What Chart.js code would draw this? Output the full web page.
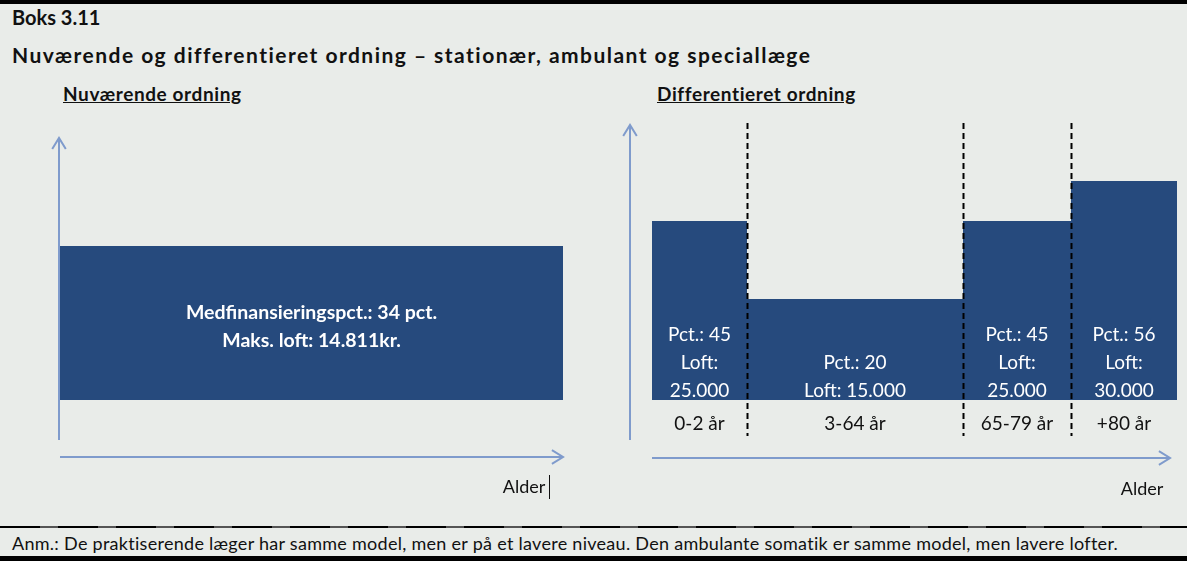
<!DOCTYPE html>
<html>
<head>
<meta charset="utf-8">
<script src="https://cdn.jsdelivr.net/npm/chart.js@4"></script>
<style>
  body { margin: 0; background: #e9ece9; font-family: Lato, "Open Sans", sans-serif; }
  #page { position: relative; width: 1187px; height: 561px; overflow: hidden; background: #e9ece9; }
  .topbar { position: absolute; left: 0; top: 0; width: 1187px; height: 4px; background: #000; }
  .botbar { position: absolute; left: 0; top: 556px; width: 1187px; height: 5px; background: #000; }
  .boks { position: absolute; left: 12px; top: 5px; font-size: 20px; font-weight: bold; color: #111; white-space: nowrap; }
  .title { position: absolute; left: 12px; top: 42px; font-size: 21px; font-weight: bold; color: #111; letter-spacing: 1.47px; white-space: nowrap; }
  .sub { position: absolute; top: 82px; font-size: 19px; font-weight: bold; color: #111; text-decoration: underline; letter-spacing: 0.6px; white-space: nowrap; }
  .sep { position: absolute; left: 0; top: 526px; width: 1187px; height: 2px;
         background: repeating-linear-gradient(90deg, #000 0 40px, #555 40px 58px); }
  .note { position: absolute; left: 12px; top: 532px; font-size: 18px; color: #111; letter-spacing: 0.28px; white-space: nowrap; }
  canvas { position: absolute; }
</style>
</head>
<body>
<div id="page">
  <div class="topbar"></div>
  <div class="boks">Boks 3.11</div>
  <div class="title">Nuværende og differentieret ordning – stationær, ambulant og speciallæge</div>
  <div class="sub" style="left:63px">Nuværende ordning</div>
  <div class="sub" style="left:657px">Differentieret ordning</div>
  <div id="leftWrap" style="position:absolute;left:0;top:100px;width:593px;height:420px"><canvas id="leftChart"></canvas></div>
  <div id="rightWrap" style="position:absolute;left:593px;top:100px;width:594px;height:420px"><canvas id="rightChart"></canvas></div>
  <div class="sep"></div>
  <div class="note">Anm.: De praktiserende læger har samme model, men er på et lavere niveau. Den ambulante somatik er samme model, men lavere lofter.</div>
  <div class="botbar"></div>
</div>
<script>
// Nuværende ordning: one block
var currentWidths = [1];
var currentHeights = [154];
var currentText = ["Medfinansieringspct.: 34 pct.", "Maks. loft: 14.811kr."];

// Differentieret ordning: age groups, relative widths and heights
var ageGroups = ["0-2 år", "3-64 år", "65-79 år", "+80 år"];
var groupWidths = [95, 216, 108, 106];
var groupHeights = [179, 101, 179, 219];
var groupPct = ["Pct.: 45", "Pct.: 20", "Pct.: 45", "Pct.: 56"];
var groupLoft = [["Loft:", "25.000"], ["Loft: 15.000"], ["Loft:", "25.000"], ["Loft:", "30.000"]];

var barColor = "#264a7d";
var axisColor = "#7f9bcc";

function stepPoints(widths, heights) {
  let pts = [];
  let x = 0;
  for (let i = 0; i < widths.length; i++) {
    pts.push({ x: x, y: heights[i] });
    x += widths[i];
  }
  pts.push({ x: x, y: heights[heights.length - 1] });
  return pts;
}

function edges(widths) {
  let e = [0];
  widths.forEach((w) => e.push(e[e.length - 1] + w));
  return e;
}

function arrow(ctx, x1, y1, x2, y2) {
  ctx.save();
  ctx.strokeStyle = axisColor;
  ctx.lineWidth = 2;
  ctx.beginPath();
  ctx.moveTo(x1, y1);
  ctx.lineTo(x2, y2);
  ctx.stroke();
  let a = Math.atan2(y2 - y1, x2 - x1);
  ctx.beginPath();
  ctx.moveTo(x2 - 13 * Math.cos(a - 0.55), y2 - 13 * Math.sin(a - 0.55));
  ctx.lineTo(x2, y2);
  ctx.lineTo(x2 - 13 * Math.cos(a + 0.55), y2 - 13 * Math.sin(a + 0.55));
  ctx.stroke();
  ctx.restore();
}

function baseOptions(xmax, ymax, pad) {
  return {
    responsive: true,
    maintainAspectRatio: false,
    animation: false,
    layout: { padding: pad },
    plugins: { legend: { display: false }, tooltip: { enabled: false } },
    elements: { point: { radius: 0 } },
    scales: {
      x: { type: "linear", min: 0, max: xmax, display: false },
      y: { type: "linear", min: 0, max: ymax, display: false },
    },
  };
}

var leftDeco = {
  id: "leftDeco",
  afterDraw(chart) {
    let ctx = chart.ctx;
    let xs = chart.scales.x, ys = chart.scales.y;
    let x0 = xs.getPixelForValue(0), x1 = xs.getPixelForValue(currentWidths[0]);
    let y0 = ys.getPixelForValue(0), yTop = ys.getPixelForValue(currentHeights[0]);
    arrow(ctx, x0 - 1, y0 + 40, x0 - 1, 38);
    arrow(ctx, x0, y0 + 57, x1, y0 + 57);
    ctx.save();
    ctx.fillStyle = "#ffffff";
    ctx.font = "bold 19.5px Lato";
    ctx.textAlign = "center";
    ctx.textBaseline = "middle";
    let cx = (x0 + x1) / 2, cy = (y0 + yTop) / 2;
    ctx.fillText(currentText[0], cx, cy - 10);
    ctx.fillText(currentText[1], cx, cy + 18);
    ctx.fillStyle = "#111";
    ctx.font = "18px Lato";
    ctx.fillText("Alder", x1 - 39, y0 + 87);
    ctx.fillRect(x1 - 14, y0 + 75, 1, 24);
    ctx.restore();
  },
};

var rightDeco = {
  id: "rightDeco",
  afterDraw(chart) {
    let ctx = chart.ctx;
    let xs = chart.scales.x, ys = chart.scales.y;
    let e = edges(groupWidths);
    let y0 = ys.getPixelForValue(0);
    let left = xs.getPixelForValue(0);
    arrow(ctx, left - 22, y0 + 40, left - 22, 25);
    arrow(ctx, left, y0 + 58, xs.getPixelForValue(e[e.length - 1]) - 7, y0 + 58);
    ctx.save();
    ctx.strokeStyle = "#000";
    ctx.lineWidth = 2;
    ctx.setLineDash([6, 4]);
    for (let i = 1; i < e.length - 1; i++) {
      let px = Math.round(xs.getPixelForValue(e[i])) + 0.5;
      ctx.beginPath();
      ctx.moveTo(px, 23);
      ctx.lineTo(px, y0 + 36);
      ctx.stroke();
    }
    ctx.setLineDash([]);
    ctx.textAlign = "center";
    ctx.textBaseline = "middle";
    for (let i = 0; i < ageGroups.length; i++) {
      let cx = (xs.getPixelForValue(e[i]) + xs.getPixelForValue(e[i + 1])) / 2;
      let lines = [groupPct[i]].concat(groupLoft[i]);
      ctx.fillStyle = "#ffffff";
      ctx.font = "19px Lato";
      for (let j = 0; j < lines.length; j++) {
        ctx.fillText(lines[j], cx, y0 - 9 - 28 * (lines.length - 1 - j));
      }
      ctx.fillStyle = "#111";
      ctx.font = "19px Lato";
      ctx.fillText(ageGroups[i], cx, y0 + 24);
    }
    ctx.font = "18px Lato";
    ctx.fillText("Alder", xs.getPixelForValue(e[e.length - 1]) - 35, y0 + 89);
    ctx.restore();
  },
};

new Chart(document.getElementById("leftChart"), {
  type: "line",
  data: {
    datasets: [{
      data: stepPoints(currentWidths, currentHeights),
      stepped: true,
      fill: "origin",
      backgroundColor: barColor,
      borderWidth: 0,
      borderColor: barColor,
    }],
  },
  options: baseOptions(currentWidths[0], currentHeights[0], { left: 60, right: 30, top: 146, bottom: 120 }),
  plugins: [leftDeco],
});

new Chart(document.getElementById("rightChart"), {
  type: "line",
  data: {
    datasets: [{
      data: stepPoints(groupWidths, groupHeights),
      stepped: true,
      fill: "origin",
      backgroundColor: barColor,
      borderWidth: 0,
      borderColor: barColor,
    }],
  },
  options: baseOptions(edges(groupWidths)[groupWidths.length], Math.max(...groupHeights), { left: 59, right: 10, top: 81, bottom: 120 }),
  plugins: [rightDeco],
});
</script>
</body>
</html>
